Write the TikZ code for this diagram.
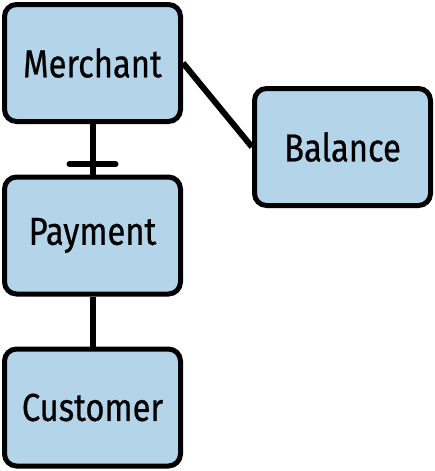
\documentclass[tikz,border=0pt]{standalone}
\usepackage{fontspec}
\setmainfont{Fira Sans}[FakeStretch=0.84, FakeBold=0.6]
\usetikzlibrary{positioning}
\definecolor{entityblue}{HTML}{B4D4EA}
\begin{document}
\begin{tikzpicture}[
    x=1pt, y=-1pt,
    entity/.style={rectangle, draw, line width=5pt, rounded corners=12pt,
      fill=entityblue, minimum width=176pt, minimum height=117pt,
      font=\fontsize{39}{44}\selectfont},
    rel/.style={line width=6pt}
  ]
  \useasboundingbox (0,0) rectangle (435,471);

  % Entities
  \node[entity] (merchant) at (92.5, 63) {Merchant};
  \node[entity] (payment) at (92.5, 235.5) {Payment};
  \node[entity] (customer) at (92.5, 407.5) {Customer};
  \node[entity] (balance) at (342.5, 147) {Balance};

  % Relations
  \draw[rel] (merchant) -- (payment) coordinate[pos=0.8] (onebar);
  \draw[rel, line cap=round] ([xshift=-23pt]onebar) -- ([xshift=23pt]onebar);
  \draw[rel] (payment) -- (customer);
  \draw[rel] (merchant.east) -- (balance.west);
\end{tikzpicture}
\end{document}
